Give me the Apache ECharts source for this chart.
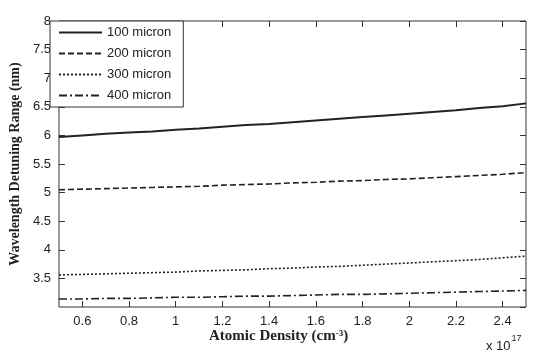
<!DOCTYPE html>
<html>
<head>
<meta charset="utf-8">
<script src="https://cdn.jsdelivr.net/npm/echarts@6/dist/echarts.min.js"></script>
<style>
 html, body { margin: 0; padding: 0; background: #fff; }
 #chart { width: 540px; height: 360px; }
</style>
</head>
<body>
<div id="chart"></div>
<script>
// atomic density (x 10^17 cm^-3)
var density = [0.5, 0.6, 0.7, 0.8, 0.9, 1.0, 1.1, 1.2, 1.3, 1.4, 1.5,
               1.6, 1.7, 1.8, 1.9, 2.0, 2.1, 2.2, 2.3, 2.4, 2.5];
var seriesNames = ['100 micron', '200 micron', '300 micron', '400 micron'];
var range100 = [5.97, 6.00, 6.03, 6.05, 6.07, 6.10, 6.12, 6.15, 6.18, 6.20, 6.23,
                6.26, 6.29, 6.32, 6.35, 6.38, 6.41, 6.44, 6.48, 6.51, 6.56];
var range200 = [5.05, 5.06, 5.07, 5.08, 5.09, 5.10, 5.11, 5.13, 5.14, 5.15, 5.17,
                5.18, 5.20, 5.21, 5.23, 5.24, 5.26, 5.28, 5.30, 5.32, 5.35];
var range300 = [3.56, 3.57, 3.58, 3.59, 3.60, 3.61, 3.63, 3.64, 3.65, 3.67, 3.68,
                3.70, 3.71, 3.73, 3.75, 3.77, 3.79, 3.81, 3.83, 3.86, 3.89];
var range400 = [3.14, 3.14, 3.15, 3.15, 3.16, 3.17, 3.17, 3.18, 3.19, 3.19, 3.20,
                3.21, 3.22, 3.22, 3.23, 3.24, 3.25, 3.26, 3.27, 3.28, 3.29];
var xTicks = [0.6, 0.8, 1.0, 1.2, 1.4, 1.6, 1.8, 2.0, 2.2, 2.4];

var myChart = echarts.init(document.getElementById('chart'));

function pairs(ys) {
    return density.map(function (x, i) { return [x, ys[i]]; });
}

function makeLine(name, ys, type, width) {
    return {
        name: name,
        type: 'line',
        data: pairs(ys),
        symbol: 'none',
        silent: true,
        animation: false,
        itemStyle: { color: '#222' },
        lineStyle: { color: '#222', width: width, type: type }
    };
}

var labelFont = { color: '#222', fontSize: 13, fontFamily: 'Liberation Sans, Arial, sans-serif' };
var tickStyle = { inside: true, length: 6, lineStyle: { color: '#333' } };

myChart.setOption({
    backgroundColor: '#fff',
    animation: false,
    grid: {
        left: 50, right: 14, top: 21, bottom: 53,
        show: true, borderColor: '#333', borderWidth: 1
    },
    legend: {
        orient: 'vertical',
        left: 50, top: 21,
        data: seriesNames,
        itemWidth: 43,
        itemHeight: 12,
        itemGap: 8,
        padding: [5, 12, 5, 8],
        backgroundColor: '#fff',
        borderColor: '#333',
        borderWidth: 1,
        itemStyle: { opacity: 0 },
        textStyle: labelFont
    },
    xAxis: [{
        type: 'value',
        min: 0.5, max: 2.5,
        axisLine: { show: false },
        splitLine: { show: false },
        axisTick: Object.assign({ customValues: xTicks }, tickStyle),
        axisLabel: Object.assign({ margin: 8, customValues: xTicks,
            formatter: function (v) { return String(Math.round(v * 10) / 10); } }, labelFont)
    }, {
        type: 'value', position: 'top',
        min: 0.5, max: 2.5,
        axisLine: { show: false },
        splitLine: { show: false },
        axisLabel: { show: false, customValues: xTicks },
        axisTick: Object.assign({ customValues: xTicks }, tickStyle)
    }],
    yAxis: [{
        type: 'value',
        min: 3, max: 8, interval: 0.5,
        axisLine: { show: false },
        splitLine: { show: false },
        axisTick: tickStyle,
        axisLabel: Object.assign({ margin: 8, showMinLabel: false }, labelFont),
        name: 'Wavelength Detuning Range (nm)',
        nameLocation: 'middle',
        nameGap: 33,
        nameTextStyle: { color: '#222', fontSize: 14, fontWeight: 'bold', fontFamily: 'Liberation Serif, Times New Roman, serif' }
    }, {
        type: 'value', position: 'right',
        min: 3, max: 8, interval: 0.5,
        axisLine: { show: false },
        splitLine: { show: false },
        axisLabel: { show: false },
        axisTick: tickStyle
    }],
    graphic: [{
        type: 'text',
        left: 209, top: 329,
        style: {
            text: '{b|Atomic Density (cm}{s|-3}{b|)}',
            rich: {
                b: { fontSize: 15, fontWeight: 'bold', fontFamily: 'Liberation Serif, serif', fill: '#222' },
                s: { fontSize: 9, fontWeight: 'bold', fontFamily: 'Liberation Serif, serif', fill: '#222', verticalAlign: 'top', padding: [0, 0, 6, 0] }
            }
        }
    }, {
        type: 'text',
        left: 486, top: 334,
        style: {
            text: '{t|x 10}{s|17}',
            rich: {
                t: { fontSize: 13, fontFamily: 'Liberation Sans, Arial, sans-serif', fill: '#222', padding: [8, 0, 0, 0] },
                s: { fontSize: 9, fontFamily: 'Liberation Sans, Arial, sans-serif', fill: '#222', padding: [0, 0, 8, 1] }
            }
        }
    }],
    series: [
        makeLine(seriesNames[0], range100, 'solid', 2),
        makeLine(seriesNames[1], range200, [6, 3], 1.6),
        makeLine(seriesNames[2], range300, [2, 2], 1.6),
        makeLine(seriesNames[3], range400, [8, 3, 2, 3], 1.6)
    ]
});

window.addEventListener('resize', function () { myChart.resize(); });
</script>
</body>
</html>
